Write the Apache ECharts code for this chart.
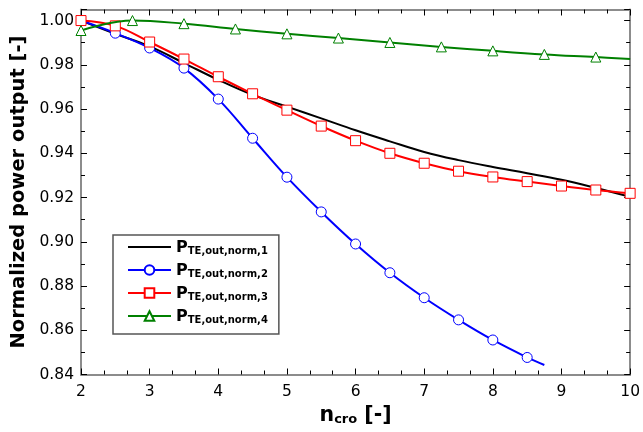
<!DOCTYPE html>
<html><head><meta charset="utf-8">
<script src="https://cdn.jsdelivr.net/npm/echarts@6/dist/echarts.min.js"></script>
<style>html,body{margin:0;padding:0;background:#fff}#c{width:643px;height:432px}</style>
</head><body><div id="c"></div>
<script>
// ---- data ----
const seriesNames = ['P_TE,out,norm,1','P_TE,out,norm,2','P_TE,out,norm,3','P_TE,out,norm,4'];
const xBlack = [2,2.5,3,3.5,4,4.5,5,5.5,6,6.5,7,7.5,8,8.5,9,9.5,10];
const yBlack = [1.000,0.9940,0.9883,0.9808,0.9732,0.9664,0.9611,0.9558,0.9504,0.9454,0.9406,0.9369,0.9338,0.9310,0.9280,0.9243,0.9203];
const xBlue = [2,2.5,3,3.5,4,4.5,5,5.5,6,6.5,7,7.5,8,8.5,8.75];
const yBlue = [1.000,0.9943,0.9876,0.9785,0.9645,0.9468,0.9292,0.9135,0.8990,0.8860,0.8747,0.8647,0.8556,0.8477,0.8443];
const xRed = [2,2.5,3,3.5,4,4.5,5,5.5,6,6.5,7,7.5,8,8.5,9,9.5,10];
const yRed = [1.000,0.9976,0.9903,0.9826,0.9746,0.9669,0.9595,0.9523,0.9457,0.9400,0.9355,0.9319,0.9293,0.9272,0.9252,0.9234,0.9219];
const xGreen = [2,2.75,3.5,4.25,5,5.75,6.5,7.25,8,8.75,9.5,10];
const yGreen = [0.9955,1.0000,0.9986,0.9962,0.9940,0.9921,0.9901,0.9881,0.9863,0.9847,0.9835,0.9826];
const xTickLabels = ['2','3','4','5','6','7','8','9','10'];
const yTickLabels = ['0.84','0.86','0.88','0.90','0.92','0.94','0.96','0.98','1.00'];

// ---- chart ----
const FONT = 'DejaVu Sans';
function pairs(xs, ys, noMarker) {
  return xs.map((x, i) => {
    const item = { value: [x, ys[i]] };
    if (noMarker && noMarker(x, i)) item.symbol = 'none';
    return item;
  });
}
const axisLineStyle = { color: '#8c8c8c', width: 2 };
const tickStyle = { color: '#000', width: 1 };
function xAx(pos, show) {
  return {
    type: 'value', position: pos, min: 2, max: 10, interval: 1,
    axisLine: { show: true, onZero: false, lineStyle: axisLineStyle },
    axisTick: { show: true, inside: true, length: 6, lineStyle: tickStyle },
    minorTick: { show: true, splitNumber: 3, length: 4, lineStyle: tickStyle },
    splitLine: { show: false },
    axisLabel: show ? {
      show: true, margin: 9, color: '#000', fontFamily: FONT, fontSize: 15.5,
      formatter: v => { const i = xTickLabels.indexOf(String(v)); return i >= 0 ? xTickLabels[i] : ''; }
    } : { show: false },
    name: show ? '{n|n}{s|cro}{n| [-]}' : '',
    nameLocation: 'middle', nameGap: 28,
    nameTextStyle: {
      color: '#000',
      rich: {
        n: { fontFamily: FONT, fontWeight: 'bold', fontSize: 20.5, verticalAlign: 'bottom', lineHeight: 24, color: '#000' },
        s: { fontFamily: FONT, fontWeight: 'bold', fontSize: 13, verticalAlign: 'bottom', lineHeight: 15, color: '#000' }
      }
    }
  };
}
function yAx(pos, show) {
  return {
    type: 'value', position: pos, min: 0.84, max: 1.005, interval: 0.02,
    axisLine: { show: true, onZero: false, lineStyle: axisLineStyle },
    axisTick: { show: true, inside: true, length: 6, lineStyle: tickStyle },
    minorTick: { show: true, splitNumber: 2, length: 4, lineStyle: tickStyle },
    splitLine: { show: false },
    axisLabel: show ? {
      show: true, margin: 7, color: '#000', fontFamily: FONT, fontSize: 15.5, showMaxLabel: false,
      formatter: v => { const s = v.toFixed(2); return (v <= 1.0001 && yTickLabels.indexOf(s) >= 0) ? s : ''; }
    } : { show: false },
    name: show ? 'Normalized power output [-]' : '',
    nameLocation: 'middle', nameGap: 50, nameRotate: 90,
    nameTextStyle: { color: '#000', fontFamily: FONT, fontWeight: 'bold', fontSize: 19.5 }
  };
}
const chart = echarts.init(document.getElementById('c'), null, { renderer: 'canvas' });
chart.setOption({
  animation: false,
  backgroundColor: '#fff',
  grid: { left: 81, right: 11, top: 9.5, bottom: 57.5, containLabel: false },
  xAxis: [xAx('bottom', true), xAx('top', false)],
  yAxis: [yAx('left', true), yAx('right', false)],
  legend: {
    orient: 'vertical', left: 113, top: 235,
    padding: [5, 11, 9, 14], itemGap: 7,
    itemWidth: 43, itemHeight: 12,
    backgroundColor: '#fff', borderColor: '#555', borderWidth: 1.5,
    data: [
      { name: seriesNames[0], itemStyle: { color: 'rgba(0,0,0,0)', borderColor: 'rgba(0,0,0,0)', borderWidth: 0 } },
      seriesNames[1], seriesNames[2], seriesNames[3]
    ],
    formatter: name => {
      const sub = name.split('_')[1];
      return '{p|P}{s|' + sub + '}';
    },
    textStyle: {
      color: '#000',
      rich: {
        p: { fontFamily: FONT, fontWeight: 'bold', fontSize: 16, lineHeight: 18, verticalAlign: 'bottom', color: '#000' },
        s: { fontFamily: FONT, fontWeight: 'bold', fontSize: 10, lineHeight: 12, verticalAlign: 'bottom', color: '#000' }
      }
    }
  },
  series: [
    {
      name: seriesNames[0], type: 'line', smooth: 0.4, symbol: 'none',
      lineStyle: { color: '#000', width: 2 }, itemStyle: { color: '#000' },
      data: pairs(xBlack, yBlack), z: 2
    },
    {
      name: seriesNames[1], type: 'line', smooth: 0.4, symbol: 'circle', symbolSize: 10,
      lineStyle: { color: '#0000ff', width: 2 },
      itemStyle: { color: '#fff', borderColor: '#0000ff', borderWidth: 1 },
      data: pairs(xBlue, yBlue, (x) => x === 2 || x === 8.75), z: 3
    },
    {
      name: seriesNames[2], type: 'line', smooth: 0.4, symbol: 'rect', symbolSize: 10,
      lineStyle: { color: '#ff0000', width: 2 },
      itemStyle: { color: '#fff', borderColor: '#ff0000', borderWidth: 1 },
      data: pairs(xRed, yRed), z: 4
    },
    {
      name: seriesNames[3], type: 'line', smooth: 0.4, symbol: 'triangle', symbolSize: 10,
      lineStyle: { color: '#008000', width: 2 },
      itemStyle: { color: '#fff', borderColor: '#008000', borderWidth: 1 },
      data: pairs(xGreen, yGreen, (x) => x === 10), z: 5
    }
  ]
});
</script>
</body></html>
